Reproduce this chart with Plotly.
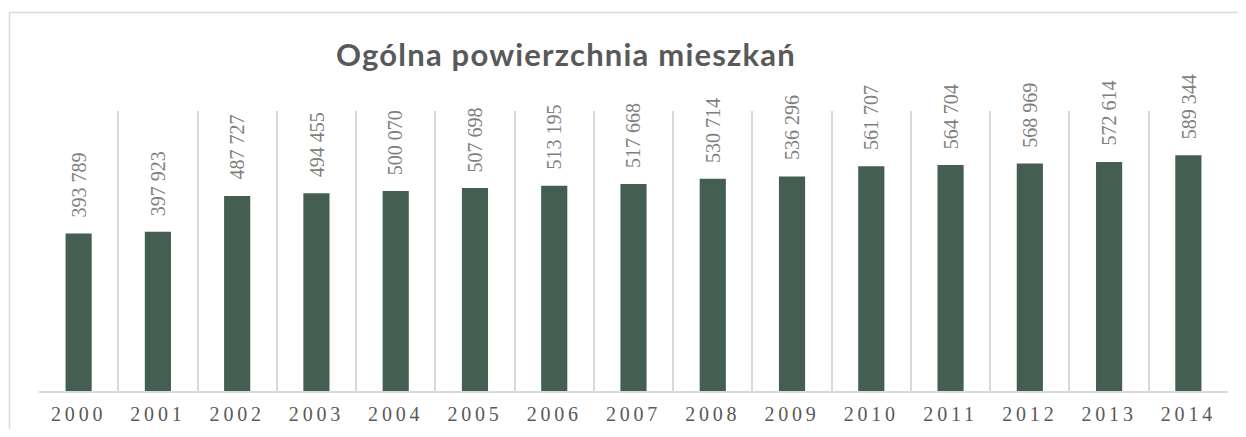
import plotly.graph_objects as go

years = ["2000", "2001", "2002", "2003", "2004", "2005", "2006", "2007",
         "2008", "2009", "2010", "2011", "2012", "2013", "2014"]
values = [393789, 397923, 487727, 494455, 500070, 507698, 513195, 517668,
          530714, 536296, 561707, 564704, 568969, 572614, 589344]
title_text = "Ogólna powierzchnia mieszkań"

def fmt(v):
    return f"{v:,}".replace(",", " ")

# page has an 8px body margin, so the figure is sized to fit the window
OFF = 8
W, H = 1246 - 2 * OFF, 437 - 2 * OFF
ml = 39 - OFF
mt = 111 - OFF
mr = W - (1228 - OFF)
mb = H - (391 - OFF)

fig = go.Figure()
fig.add_trace(go.Bar(
    x=years, y=values,
    marker=dict(color="#445f51", line=dict(width=0)),
    hoverinfo="x+y",
))

annotations = []
for i, v in enumerate(values):
    annotations.append(dict(
        x=i, y=v, xref="x", yref="y",
        text=fmt(v), textangle=-90, showarrow=False,
        xanchor="center", yanchor="bottom", yshift=14,
        font=dict(family="Liberation Serif", size=20, color="#7f7f7f"),
    ))

pw = W - ml - mr
ph = H - mt - mb
bx = (9.5 - OFF - ml) / pw
by = ((391 - OFF) - (12.5 - OFF)) / ph

shapes = [
    dict(type="line", xref="paper", yref="paper", x0=bx, x1=bx, y0=by, y1=-0.5,
         line=dict(color="#d9d9d9", width=1.5)),
    dict(type="line", xref="paper", yref="paper", x0=bx, x1=1.2, y0=by, y1=by,
         line=dict(color="#d9d9d9", width=1.5)),
]

fig.update_layout(
    width=W, height=H,
    margin=dict(l=ml, r=mr, t=mt, b=mb, pad=0, autoexpand=False),
    paper_bgcolor="white", plot_bgcolor="white",
    bargap=0.67,
    showlegend=False,
    title=dict(
        text=f'<span style="letter-spacing:1.2px">{title_text}</span>',
        x=(566 - OFF) / W, xref="container", xanchor="center",
        y=1 - (55 - OFF) / H, yref="container", yanchor="middle",
        font=dict(family="Lato", size=31, color="#595959", weight="bold"),
    ),
    xaxis=dict(
        type="category",
        categoryorder="array", categoryarray=years,
        range=[-0.5, len(years) - 0.5], autorange=False,
        tickmode="array", tickvals=list(range(len(years))),
        ticktext=[f'<span style="letter-spacing:3.8px">{y}</span>' for y in years],
        tickson="boundaries", ticks="", tickangle=0,
        ticklabelstandoff=4, automargin=False,
        showgrid=True, gridcolor="#d9d9d9", gridwidth=1.5,
        showline=True, linecolor="#d9d9d9", linewidth=1.5,
        tickfont=dict(family="Liberation Serif", size=20, color="#595959"),
        fixedrange=True,
    ),
    yaxis=dict(
        range=[0, 700000], visible=False, showgrid=False, zeroline=False,
        fixedrange=True, automargin=False,
    ),
    annotations=annotations,
    shapes=shapes,
)

fig.write_html("out.html")
